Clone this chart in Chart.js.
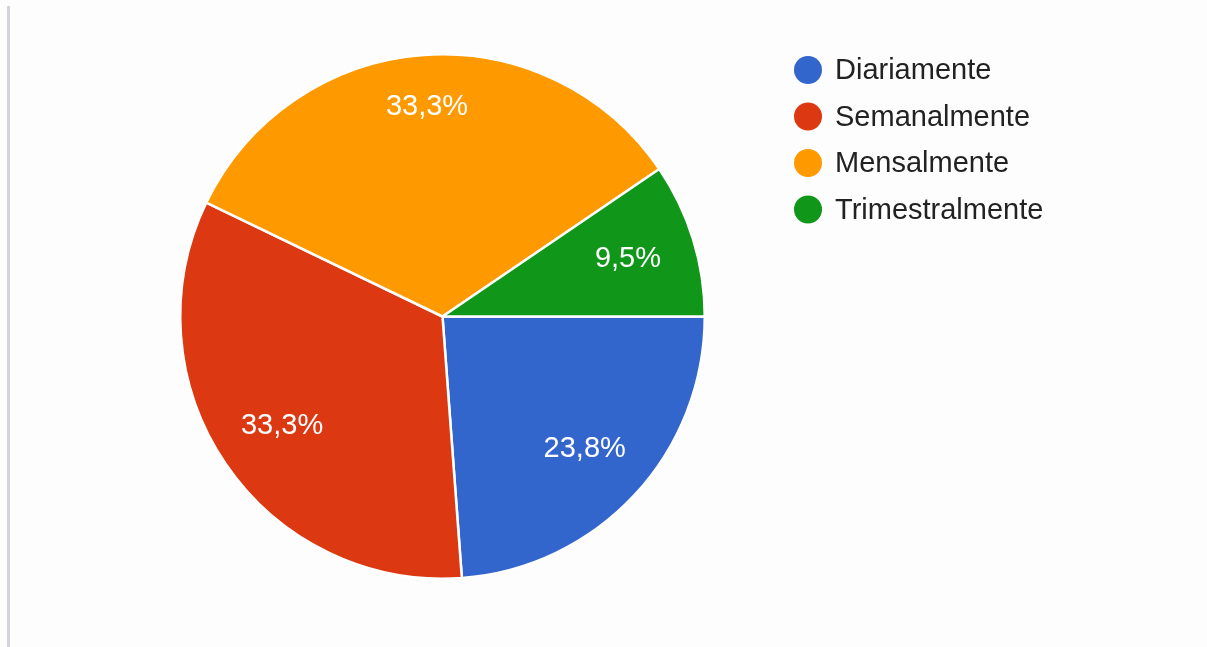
<!DOCTYPE html>
<html>
<head>
<meta charset="utf-8">
<script src="https://cdn.jsdelivr.net/npm/chart.js@4/dist/chart.umd.min.js"></script>
<style>
  html, body { margin: 0; padding: 0; background: #fdfdfd; }
  #wrap { position: relative; width: 1207px; height: 647px; overflow: hidden; }
  #rule { position: absolute; left: 7px; top: 6px; width: 3px; height: 641px; background: #d4d3db; }
  canvas { position: absolute; left: 0; top: 0; }
</style>
</head>
<body>
<div id="wrap">
  <div id="rule"></div>
  <canvas id="chart" width="1207" height="647"></canvas>
</div>
<script>
// Frequência de uso
const categories = ['Diariamente', 'Semanalmente', 'Mensalmente', 'Trimestralmente'];
const shares = [23.8, 33.3, 33.3, 9.5];
const sliceColors = ['#3366cc', '#dc3912', '#ff9900', '#109618'];

const FONT = '"Liberation Sans", Arial, sans-serif';

// Percentage text inside each slice
const sliceLabels = {
  id: 'sliceLabels',
  afterDatasetsDraw(chart, args, opts) {
    const ctx = chart.ctx;
    const meta = chart.getDatasetMeta(0);
    ctx.save();
    ctx.font = '29px ' + FONT;
    ctx.fillStyle = '#ffffff';
    ctx.textAlign = 'center';
    ctx.textBaseline = 'middle';
    meta.data.forEach((arc, i) => {
      const p = arc.getProps(['x', 'y', 'startAngle', 'endAngle', 'outerRadius'], true);
      const mid = (p.startAngle + p.endAngle) / 2;
      const r = p.outerRadius * (opts.radial[i] || 0.74);
      const text = shares[i].toFixed(1).replace('.', ',') + '%';
      ctx.fillText(text, p.x + Math.cos(mid) * r, p.y + Math.sin(mid) * r);
    });
    ctx.restore();
  }
};

// Legend column to the right of the pie
const sideLegend = {
  id: 'sideLegend',
  afterDraw(chart, args, opts) {
    const ctx = chart.ctx;
    const ds = chart.data.datasets[0];
    ctx.save();
    ctx.font = '29px ' + FONT;
    ctx.textBaseline = 'middle';
    ctx.textAlign = 'left';
    chart.data.labels.forEach((label, i) => {
      const y = opts.top + i * opts.step;
      ctx.beginPath();
      ctx.arc(opts.left, y, 14, 0, Math.PI * 2);
      ctx.fillStyle = ds.backgroundColor[i];
      ctx.fill();
      ctx.fillStyle = '#222222';
      ctx.fillText(label, opts.left + 27, y + 1);
    });
    ctx.restore();
  }
};

new Chart(document.getElementById('chart'), {
  type: 'pie',
  data: {
    labels: categories,
    datasets: [{
      data: shares,
      backgroundColor: sliceColors,
      borderColor: '#ffffff',
      borderWidth: 2.5
    }]
  },
  options: {
    responsive: false,
    animation: false,
    rotation: 90,
    layout: { padding: { left: 179, top: 53, right: 501, bottom: 67 } },
    plugins: {
      legend: { display: false },
      tooltip: { enabled: false },
      sliceLabels: { radial: [0.74, 0.74, 0.80, 0.74] },
      sideLegend: { left: 808, top: 70, step: 46.5 }
    }
  },
  plugins: [sliceLabels, sideLegend]
});
</script>
</body>
</html>
